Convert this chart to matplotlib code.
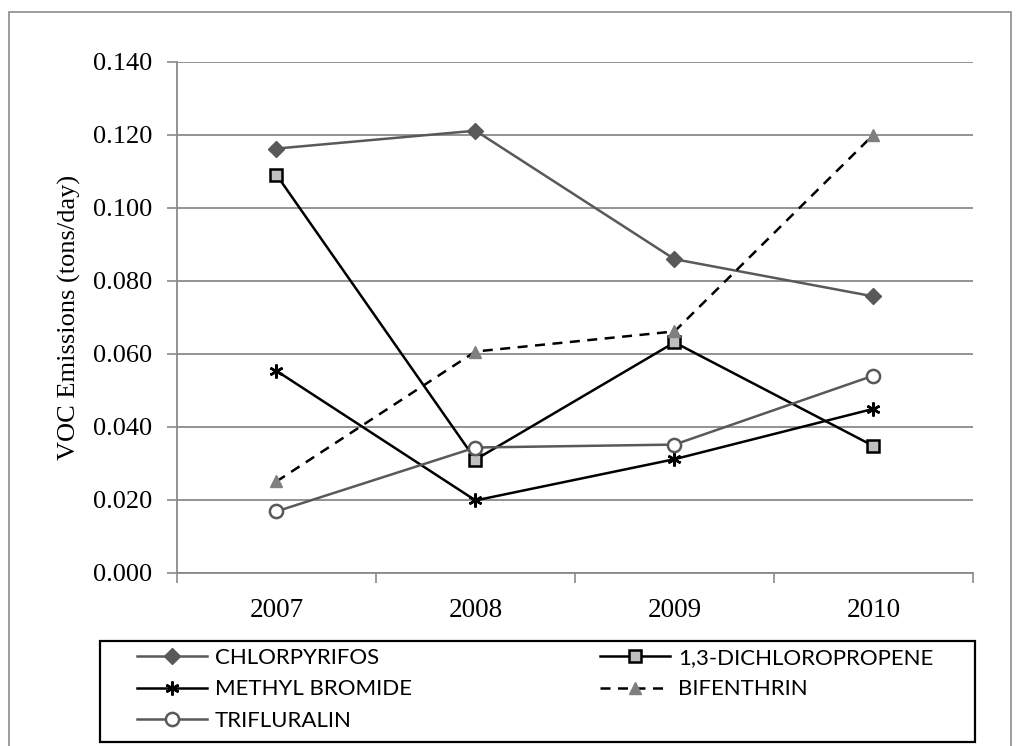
import matplotlib
matplotlib.use("Agg")
import matplotlib.pyplot as plt
from matplotlib.patches import Rectangle
from matplotlib import font_manager

years = ["2007", "2008", "2009", "2010"]
chlorpyrifos = [0.1162, 0.1211, 0.0859, 0.0757]
dichloropropene = [0.1090, 0.0310, 0.0631, 0.0347]
methyl_bromide = [0.0553, 0.0198, 0.0311, 0.0449]
bifenthrin = [0.0250, 0.0606, 0.0661, 0.1200]
trifluralin = [0.0168, 0.0343, 0.0351, 0.0540]
yticks = [0.000, 0.020, 0.040, 0.060, 0.080, 0.100, 0.120, 0.140]

names = {f.name for f in font_manager.fontManager.ttflist}
serif = "Liberation Serif" if "Liberation Serif" in names else "DejaVu Serif"
sans = "Lato" if "Lato" in names else "Liberation Sans"

W, H = 1020, 746
fig = plt.figure(figsize=(W / 100, H / 100), dpi=100)
fig.patch.set_facecolor("white")

# outer chart frame
fig.add_artist(Rectangle((9 / W, -0.01), (1011 - 9) / W, 1 - 12 / H + 0.01, transform=fig.transFigure,
                         fill=False, edgecolor="#8c8c8c", linewidth=1.2))

left, right, top, bottom = 177, 973, 61.7, 572.7
ax = fig.add_axes([left / W, 1 - bottom / H, (right - left) / W, (bottom - top) / H])

x = [1, 2, 3, 4]
grid_c = "#8a8a8a"
l1, = ax.plot(x, chlorpyrifos, color="#595959", lw=1.8, marker="D", ms=8.5,
              mfc="#595959", mec="#595959", label="CHLORPYRIFOS", zorder=3)
l2, = ax.plot(x, dichloropropene, color="black", lw=1.8, marker="s", ms=9,
              mfc="#bfbfbf", mec="black", mew=1.8, label="1,3-DICHLOROPROPENE", zorder=3)
l3, = ax.plot(x, methyl_bromide, color="black", lw=1.8, marker=(6, 2, 0), ms=10,
              mfc="black", mec="black", mew=1.8, label="METHYL BROMIDE", zorder=3)
l4, = ax.plot(x, bifenthrin, color="black", lw=1.8, ls=(0, (4, 3)), marker="^", ms=8.5,
              mfc="#7f7f7f", mec="#7f7f7f", label="BIFENTHRIN", zorder=3)
l5, = ax.plot(x, trifluralin, color="#595959", lw=1.8, marker="o", ms=9.5,
              mfc="white", mec="#595959", mew=1.8, label="TRIFLURALIN", zorder=3)

ax.set_xlim(0.5, 4.5)
ax.set_ylim(0, 0.140)
ax.set_yticks(yticks)
ax.set_yticklabels([f"{v:.3f}" for v in yticks], fontfamily=serif, fontsize=19)
ax.set_xticks(x)
ax.set_xticklabels(years, fontfamily=serif, fontsize=19.5)
ax.set_xticks([0.5, 1.5, 2.5, 3.5, 4.5], minor=True)
ax.tick_params(axis="x", which="major", length=0, pad=18)
ax.tick_params(axis="x", which="minor", length=7, color=grid_c, width=1.2, direction="out")
ax.tick_params(axis="y", which="major", length=7, color=grid_c, width=1.2, direction="out", pad=11)
ax.yaxis.grid(True, color=grid_c, lw=1.3)
ax.set_axisbelow(True)
for s in ["top", "right"]:
    ax.spines[s].set_visible(False)
for s in ["left", "bottom"]:
    ax.spines[s].set_color(grid_c)
    ax.spines[s].set_linewidth(1.3)
ax.set_ylabel("VOC Emissions (tons/day)", fontfamily=serif, fontsize=19, labelpad=4)
ax.yaxis.set_label_coords(-(left - 81) / (right - left), 0.5)

# legend frame
fig.add_artist(Rectangle((100 / W, 1 - 742 / H), (975 - 100) / W, (742 - 641) / H,
                         transform=fig.transFigure, fill=False, edgecolor="black", linewidth=1.6))

lkw = dict(frameon=False, prop={"family": sans, "size": 16}, handlelength=3.15,
           handletextpad=0.36, labelspacing=0.51, borderpad=0, borderaxespad=0, loc="upper left")
leg1 = fig.legend([l1, l3, l5], ["CHLORPYRIFOS", "METHYL BROMIDE", "TRIFLURALIN"],
                  bbox_to_anchor=(137 / W, 1 - 648 / H), **lkw)
leg2 = fig.legend([l2, l4], ["1,3-DICHLOROPROPENE", "BIFENTHRIN"],
                  bbox_to_anchor=(600 / W, 1 - 648 / H), **lkw)

fig.savefig("out.png", dpi=100)
